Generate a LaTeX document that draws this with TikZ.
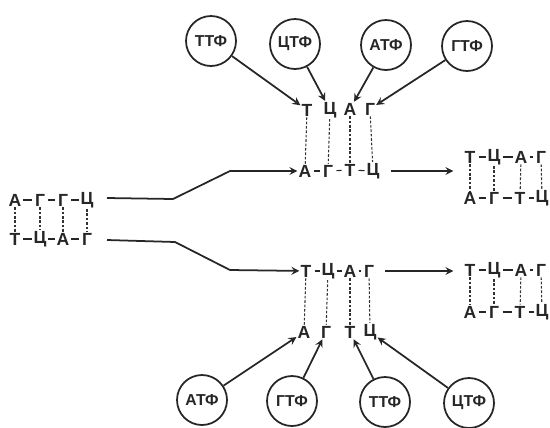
\documentclass[tikz,border=0pt]{standalone}
\usepackage{fontspec}
\setmainfont{Liberation Sans}
\begin{document}
\begin{tikzpicture}[x=0.02cm, y=-0.02cm,
    base/.style={font=\bfseries\fontsize{10}{10}\selectfont, inner sep=0.5pt, text=black!85},
    ntp/.style={circle, draw=black!85, line width=1pt, minimum size=1cm, inner sep=0pt,
        font=\bfseries\fontsize{9}{9}\selectfont, text=black!85},
    bond/.style={black!85, semithick, shorten <=0.17cm, shorten >=0.17cm},
    pair/.style={black!80, dash pattern=on 1.5pt off 1pt, semithick},
    feed/.style={black!85, line width=1pt, -stealth},
    strand/.style={black!85, line width=1pt, -stealth}
]
\useasboundingbox (0,0) rectangle (550,427);

% parent duplex
\node[base] (l1) at (15,200) {А};
\node[base] (l2) at (40,200) {Г};
\node[base] (l3) at (63,200) {Г};
\node[base] (l4) at (87,200) {Ц};
\node[base] (m1) at (15,239) {Т};
\node[base] (m2) at (40,239) {Ц};
\node[base] (m3) at (63,239) {А};
\node[base] (m4) at (87,239) {Г};

% upper fork
\node[base] (t1) at (307,110) {Т};
\node[base] (t2) at (330,110) {Ц};
\node[base] (t3) at (350,109) {А};
\node[base] (t4) at (370,109) {Г};
\node[base] (u1) at (305,171) {А};
\node[base] (u2) at (328,171) {Г};
\node[base] (u3) at (350,170) {Т};
\node[base] (u4) at (373,171) {Ц};

% lower fork
\node[base] (v1) at (306,271) {Т};
\node[base] (v2) at (328,271) {Ц};
\node[base] (v3) at (350,271) {А};
\node[base] (v4) at (369,271) {Г};
\node[base] (w1) at (304,332) {А};
\node[base] (w2) at (326,332) {Г};
\node[base] (w3) at (350,332) {Т};
\node[base] (w4) at (370,332) {Ц};

% daughter duplexes
\node[base] (a1) at (470,157) {Т};
\node[base] (a2) at (494,157) {Ц};
\node[base] (a3) at (521,157) {А};
\node[base] (a4) at (541,157) {Г};
\node[base] (b1) at (470,198) {А};
\node[base] (b2) at (494,198) {Г};
\node[base] (b3) at (520,198) {Т};
\node[base] (b4) at (542,198) {Ц};
\node[base] (c1) at (470,270) {Т};
\node[base] (c2) at (494,270) {Ц};
\node[base] (c3) at (521,270) {А};
\node[base] (c4) at (541,270) {Г};
\node[base] (d1) at (470,312) {А};
\node[base] (d2) at (494,312) {Г};
\node[base] (d3) at (520,312) {Т};
\node[base] (d4) at (542,312) {Ц};

% triphosphates
\node[ntp] (ttf1) at (211,41) {ТТФ};
\node[ntp] (ctf1) at (295,44) {ЦТФ};
\node[ntp] (atf1) at (386,45) {АТФ};
\node[ntp] (gtf1) at (467,46) {ГТФ};
\node[ntp] (atf2) at (202,400) {АТФ};
\node[ntp] (gtf2) at (292,401) {ГТФ};
\node[ntp] (ttf2) at (385,402) {ТТФ};
\node[ntp] (ctf2) at (469,403) {ЦТФ};

% bends of the parent strands
\coordinate (s1) at (107,198);
\coordinate (k1) at (173,199);
\coordinate (k2) at (230,171);
\coordinate (s2) at (107,240);
\coordinate (k3) at (175,242);
\coordinate (k4) at (230,270);

% backbones
\draw[bond] (l1.center)--(l2.center); \draw[bond] (l2.center)--(l3.center); \draw[bond] (l3.center)--(l4.center);
\draw[bond] (m1.center)--(m2.center); \draw[bond] (m2.center)--(m3.center); \draw[bond] (m3.center)--(m4.center);
\draw[bond] (u1.center)--(u2.center); \draw[bond] (u2.center)--(u3.center); \draw[bond] (u3.center)--(u4.center);
\draw[bond] (v1.center)--(v2.center); \draw[bond] (v2.center)--(v3.center); \draw[bond] (v3.center)--(v4.center);
\draw[bond] (a1.center)--(a2.center); \draw[bond] (a2.center)--(a3.center); \draw[bond] (a3.center)--(a4.center);
\draw[bond] (b1.center)--(b2.center); \draw[bond] (b2.center)--(b3.center); \draw[bond] (b3.center)--(b4.center);
\draw[bond] (c1.center)--(c2.center); \draw[bond] (c2.center)--(c3.center); \draw[bond] (c3.center)--(c4.center);
\draw[bond] (d1.center)--(d2.center); \draw[bond] (d2.center)--(d3.center); \draw[bond] (d3.center)--(d4.center);

% base pairs
\draw[pair] (l1)--(m1); \draw[pair] (l2)--(m2); \draw[pair] (l3)--(m3); \draw[pair] (l4)--(m4);
\draw[pair] (t1)--(u1); \draw[pair] (t2)--(u2); \draw[pair] (t3)--(u3); \draw[pair] (t4)--(u4);
\draw[pair] (v1)--(w1); \draw[pair] (v2)--(w2); \draw[pair] (v3)--(w3); \draw[pair] (v4)--(w4);
\draw[pair] (a1)--(b1); \draw[pair] (a2)--(b2); \draw[pair] (a3)--(b3); \draw[pair] (a4)--(b4);
\draw[pair] (c1)--(d1); \draw[pair] (c2)--(d2); \draw[pair] (c3)--(d3); \draw[pair] (c4)--(d4);

% incoming nucleotides
\draw[feed] (ttf1)--(t1);
\draw[feed] (ctf1)--(t2);
\draw[feed] (atf1)--(t3);
\draw[feed] (gtf1)--(t4);
\draw[feed] (atf2)--(w1);
\draw[feed] (gtf2)--(w2);
\draw[feed] (ttf2)--(w3);
\draw[feed] (ctf2)--(w4);

% strand separation and products
\draw[strand] (s1)--(k1)--(k2)--(u1);
\draw[strand] (s2)--(k3)--(k4)--(v1);
\draw[strand, shorten <=0.2cm, shorten >=0.2cm] (u4)--(a1.west |- u4);
\draw[strand, shorten <=0.2cm, shorten >=0.2cm] (v4)--(c1.west |- v4);
\end{tikzpicture}
\end{document}
